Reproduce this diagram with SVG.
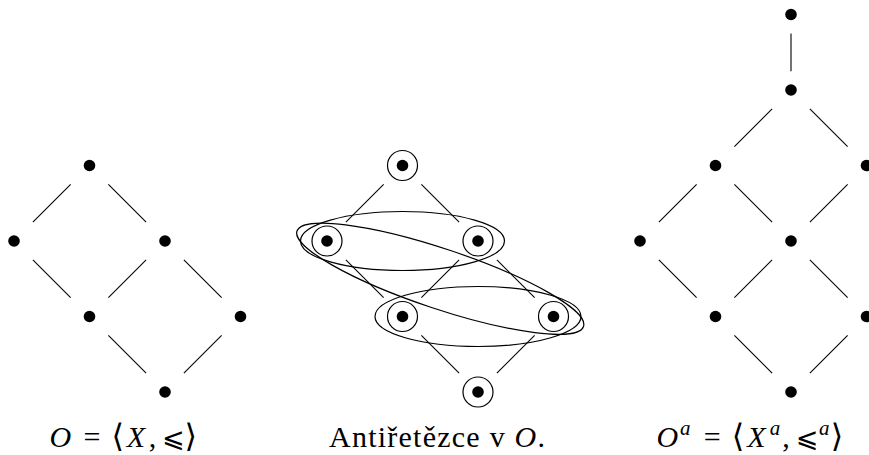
<svg xmlns="http://www.w3.org/2000/svg" width="869" height="455" viewBox="0 0 869 455">
  <style>
    .edge { stroke: #000; stroke-width: 1.1; fill: none; }
    .dot { fill: #000; }
    .ring { fill: none; stroke: #000; stroke-width: 1.2; }
    .set { fill: none; stroke: #000; stroke-width: 1.2; }
    .lbl { font-family: "Liberation Serif", "DejaVu Serif", serif; font-size: 30px; fill: #000; }
    .math { text-anchor: middle; }
    .it { font-style: italic; }
    .rel { font-family: "DejaVu Sans", "DejaVu Serif", sans-serif; font-size: 27px; }
    .br { font-family: "DejaVu Sans", "DejaVu Serif", sans-serif; font-size: 32px; }
    .sup { font-size: 21px; font-style: italic; }
  </style>
  <defs>
    <circle id="pt" r="5.8"/>
  </defs>

  <!-- Hasse diagram of O -->
  <g id="connectors-O">
    <line class="edge" x1="70.625" y1="184.375" x2="32.875" y2="222.125"/>
    <line class="edge" x1="108.375" y1="184.375" x2="146.125" y2="222.125"/>
    <line class="edge" x1="32.875" y1="259.875" x2="70.625" y2="297.625"/>
    <line class="edge" x1="146.125" y1="259.875" x2="108.375" y2="297.625"/>
    <line class="edge" x1="183.875" y1="259.875" x2="221.625" y2="297.625"/>
    <line class="edge" x1="108.375" y1="335.375" x2="146.125" y2="373.125"/>
    <line class="edge" x1="221.625" y1="335.375" x2="183.875" y2="373.125"/>
  </g>
  <g id="o-top"><use href="#pt" class="dot" x="89.5" y="165.5"/></g>
  <g id="o-left"><use href="#pt" class="dot" x="14" y="241"/></g>
  <g id="o-right"><use href="#pt" class="dot" x="165" y="241"/></g>
  <g id="o-lowleft"><use href="#pt" class="dot" x="89.5" y="316.5"/></g>
  <g id="o-lowright"><use href="#pt" class="dot" x="240.5" y="316.5"/></g>
  <g id="o-bottom"><use href="#pt" class="dot" x="165" y="392"/></g>

  <!-- Antichains in O -->
  <g id="connectors-A">
    <line class="edge" x1="383.625" y1="184.375" x2="345.875" y2="222.125"/>
    <line class="edge" x1="421.375" y1="184.375" x2="459.125" y2="222.125"/>
    <line class="edge" x1="345.875" y1="259.875" x2="383.625" y2="297.625"/>
    <line class="edge" x1="459.125" y1="259.875" x2="421.375" y2="297.625"/>
    <line class="edge" x1="496.875" y1="259.875" x2="534.625" y2="297.625"/>
    <line class="edge" x1="421.375" y1="335.375" x2="459.125" y2="373.125"/>
    <line class="edge" x1="534.625" y1="335.375" x2="496.875" y2="373.125"/>
  </g>
  <g id="a-top"><use href="#pt" class="dot" x="402.5" y="165.5"/><circle class="ring" cx="402.5" cy="165.5" r="15"/></g>
  <g id="a-left"><use href="#pt" class="dot" x="327" y="241"/><circle class="ring" cx="327" cy="241" r="15"/></g>
  <g id="a-right"><use href="#pt" class="dot" x="478" y="241"/><circle class="ring" cx="478" cy="241" r="15"/></g>
  <g id="a-lowleft"><use href="#pt" class="dot" x="402.5" y="316.5"/><circle class="ring" cx="402.5" cy="316.5" r="15"/></g>
  <g id="a-lowright"><use href="#pt" class="dot" x="553.5" y="316.5"/><circle class="ring" cx="553.5" cy="316.5" r="15"/></g>
  <g id="a-bottom"><use href="#pt" class="dot" x="478" y="392"/><circle class="ring" cx="478" cy="392" r="15"/></g>
  <g id="antichains">
    <ellipse class="set" cx="402.5" cy="241" rx="102" ry="29.5"/>
    <ellipse class="set" cx="478" cy="316.5" rx="103" ry="30"/>
    <ellipse class="set" cx="0" cy="0" rx="151" ry="30" transform="translate(440.25 278.75) rotate(18.43)"/>
  </g>

  <!-- Hasse diagram of O^a -->
  <g id="connectors-Oa">
    <line class="edge" x1="791" y1="33.375" x2="791" y2="71.125"/>
    <line class="edge" x1="772.125" y1="108.875" x2="734.375" y2="146.625"/>
    <line class="edge" x1="809.875" y1="108.875" x2="847.625" y2="146.625"/>
    <line class="edge" x1="696.625" y1="184.375" x2="658.875" y2="222.125"/>
    <line class="edge" x1="734.375" y1="184.375" x2="772.125" y2="222.125"/>
    <line class="edge" x1="847.625" y1="184.375" x2="809.875" y2="222.125"/>
    <line class="edge" x1="658.875" y1="259.875" x2="696.625" y2="297.625"/>
    <line class="edge" x1="772.125" y1="259.875" x2="734.375" y2="297.625"/>
    <line class="edge" x1="809.875" y1="259.875" x2="847.625" y2="297.625"/>
    <line class="edge" x1="734.375" y1="335.375" x2="772.125" y2="373.125"/>
    <line class="edge" x1="847.625" y1="335.375" x2="809.875" y2="373.125"/>
  </g>
  <g id="oa-top"><use href="#pt" class="dot" x="791" y="14.5"/></g>
  <g id="oa-a"><use href="#pt" class="dot" x="791" y="90"/></g>
  <g id="oa-b"><use href="#pt" class="dot" x="715.5" y="165.5"/></g>
  <g id="oa-c"><use href="#pt" class="dot" x="866.5" y="165.5"/></g>
  <g id="oa-d"><use href="#pt" class="dot" x="640" y="241"/></g>
  <g id="oa-e"><use href="#pt" class="dot" x="791" y="241"/></g>
  <g id="oa-f"><use href="#pt" class="dot" x="715.5" y="316.5"/></g>
  <g id="oa-g"><use href="#pt" class="dot" x="866.5" y="316.5"/></g>
  <g id="oa-bottom"><use href="#pt" class="dot" x="791" y="392"/></g>

  <!-- captions: each math atom placed on its own box centre -->
  <text class="lbl math" y="447"><tspan class="it" x="60.4">O</tspan><tspan x="91.9">=</tspan><tspan class="br" x="117.7">⟨</tspan><tspan class="it" x="135.9">X</tspan><tspan x="152.5">,</tspan><tspan class="rel" x="173.3">⩽</tspan><tspan class="br" x="190.7">⟩</tspan></text>
  <text class="lbl" x="329" y="447" textLength="216" lengthAdjust="spacing">Antiřetězce v <tspan class="it">O</tspan>.</text>
  <text class="lbl math" y="447"><tspan class="it" x="667.4">O</tspan><tspan class="sup" x="685.2" dy="-12">a</tspan><tspan x="712.3" dy="12">=</tspan><tspan class="br" x="738.1">⟨</tspan><tspan class="it" x="756.3">X</tspan><tspan class="sup" x="775" dy="-12">a</tspan><tspan x="786" dy="12">,</tspan><tspan class="rel" x="807">⩽</tspan><tspan class="sup" x="824.2" dy="-12">a</tspan><tspan class="br" x="837" dy="12">⟩</tspan></text>
</svg>
